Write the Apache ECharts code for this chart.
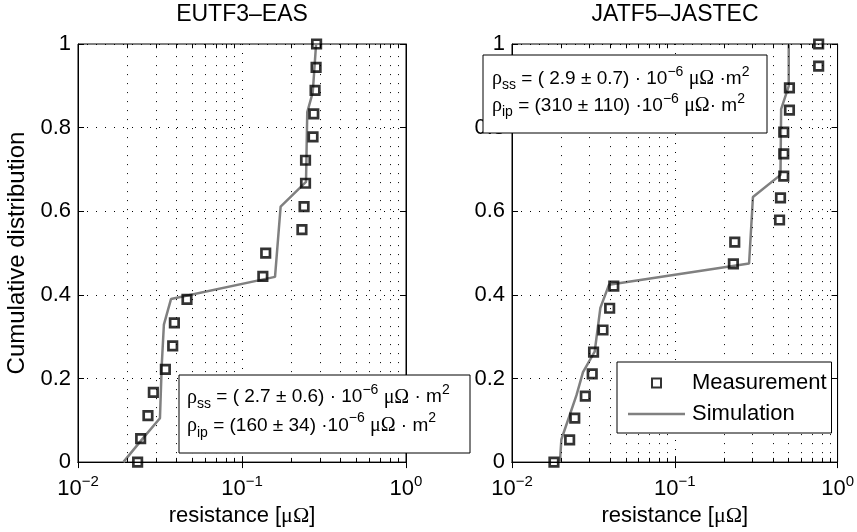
<!DOCTYPE html>
<html><head><meta charset="utf-8">
<script src="https://cdn.jsdelivr.net/npm/echarts@6/dist/echarts.min.js"></script>
<style>html,body{margin:0;padding:0;background:#fff}#c{width:857px;height:532px}</style>
</head><body><div id="c"></div>
<script>
// ---- data ----
const panelTitles = ['EUTF3–EAS', 'JATF5–JASTEC'];
const leftMeasX = [0.0231, 0.0241, 0.0267, 0.0288, 0.0341, 0.0378, 0.0387, 0.0462, 0.134, 0.1395, 0.232, 0.239, 0.244, 0.244, 0.271, 0.274, 0.279, 0.283, 0.285];
const leftMeasY = [0, 0.056, 0.111, 0.167, 0.222, 0.278, 0.333, 0.389, 0.444, 0.5, 0.556, 0.611, 0.667, 0.722, 0.778, 0.833, 0.889, 0.944, 1];
const leftSimX = [0.0189, 0.025, 0.0316, 0.0324, 0.0334, 0.0369, 0.159, 0.172, 0.2456, 0.25, 0.27, 0.283];
const leftSimY = [0, 0.058, 0.105, 0.231, 0.329, 0.39, 0.443, 0.611, 0.67, 0.837, 0.884, 1];
const rightMeasX = [0.0181, 0.0226, 0.0243, 0.0282, 0.0311, 0.0317, 0.0362, 0.0398, 0.0422, 0.229, 0.2335, 0.44, 0.446, 0.467, 0.467, 0.467, 0.506, 0.506, 0.765, 0.765];
const rightMeasY = [0, 0.053, 0.105, 0.158, 0.211, 0.263, 0.316, 0.368, 0.421, 0.474, 0.526, 0.579, 0.632, 0.684, 0.737, 0.789, 0.842, 0.895, 0.947, 1];
const rightSimX = [0.0197, 0.0201, 0.0249, 0.0273, 0.0322, 0.0349, 0.0394, 0.286, 0.302, 0.446, 0.45, 0.501, 0.501];
const rightSimY = [0, 0.054, 0.16, 0.215, 0.264, 0.369, 0.424, 0.475, 0.634, 0.687, 0.844, 0.899, 1];
const minorXTicks = [0.02, 0.03, 0.04, 0.05, 0.06, 0.07, 0.08, 0.09, 0.2, 0.3, 0.4, 0.5, 0.6, 0.7, 0.8, 0.9];
const yTickLabels = ['0', '0.2', '0.4', '0.6', '0.8', '1'];
const legendNames = ['Measurement', 'Simulation'];
const annotLeft = ['{g|ρ}{sub|ss} = ( 2.7 ± 0.6) · 10{sup|−6} {g|μΩ} · m{sup|2}', '{g|ρ}{sub|ip} = (160 ± 34) ·10{sup|−6} {g|μΩ} · m{sup|2}'];
const annotRight = ['{g|ρ}{sub|ss} = ( 2.9 ± 0.7) · 10{sup|−6} {g|μΩ} ·m{sup|2}', '{g|ρ}{sub|ip} = (310 ± 110) ·10{sup|−6} {g|μΩ}· m{sup|2}'];
const xAxisName = '{n|resistance [}{g|μΩ}{n|]}';
const yAxisName = 'Cumulative distribution';

// ---- style ----
const FF = '"Liberation Sans", Arial, Helvetica, sans-serif';
const SERIF = '"Liberation Serif", "DejaVu Serif", serif';
const dotted = { color: '#000', width: 1, type: [1, 8] };
const grids = [
  { left: 78, top: 44, width: 328, height: 424 },
  { left: 512, top: 44, width: 327, height: 424 }
];

function pairs(xs, ys) { return xs.map((x, i) => [x, ys[i]]); }

const xRich = {
  b: { fontSize: 22, fontFamily: FF, color: '#000', lineHeight: 30 },
  s: { fontSize: 15, fontFamily: FF, color: '#000', verticalAlign: 'top', lineHeight: 8 }
};
function xLabel(v) {
  const e = Math.round(Math.log10(v));
  return '{b|10}{s|' + (e < 0 ? '−' + (-e) : String(e)) + '}';
}

const xAxes = [], yAxes = [];
grids.forEach((g, gi) => {
  xAxes.push({
    gridIndex: gi, type: 'log', logBase: 10, min: 0.01, max: 1, position: 'bottom',
    axisLine: { show: true, lineStyle: { color: '#000', width: 1 } },
    axisTick: { show: true, inside: true, length: 6, lineStyle: { color: '#000' } },
    axisLabel: { formatter: xLabel, rich: xRich, margin: 12, color: '#000' },
    splitLine: { show: true, lineStyle: dotted },
    name: xAxisName, nameLocation: 'middle', nameGap: 38,
    nameTextStyle: { rich: { n: { fontSize: 22, fontFamily: FF, color: '#000' }, g: { fontSize: 22, fontFamily: SERIF, color: '#000' } } }
  });
  xAxes.push({
    gridIndex: gi, type: 'log', logBase: 10, min: 0.01, max: 1, position: 'top',
    axisLine: { show: true, lineStyle: { color: '#000', width: 1 } },
    axisTick: { show: true, inside: true, length: 6, lineStyle: { color: '#000' } },
    axisLabel: { show: false }, splitLine: { show: false }
  });
  yAxes.push({
    gridIndex: gi, type: 'value', min: 0, max: 1, interval: 0.2, position: 'left',
    axisLine: { show: true, lineStyle: { color: '#000', width: 1 } },
    axisTick: { show: true, inside: true, length: 6, lineStyle: { color: '#000' } },
    axisLabel: { formatter: (v) => yTickLabels[Math.round(v / 0.2)], fontSize: 22, fontFamily: FF, color: '#000', margin: 7 },
    splitLine: { show: true, lineStyle: dotted },
    name: gi === 0 ? yAxisName : '', nameLocation: 'middle', nameGap: 49,
    nameTextStyle: { fontSize: 24, fontFamily: FF, color: '#000' }
  });
  yAxes.push({
    gridIndex: gi, type: 'value', min: 0, max: 1, interval: 0.2, position: 'right',
    axisLine: { show: true, lineStyle: { color: '#000', width: 1 } },
    axisTick: { show: true, inside: true, length: 6, lineStyle: { color: '#000' } },
    axisLabel: { show: false }, splitLine: { show: false }
  });
});

function minorMarks() {
  const d = [];
  minorXTicks.forEach(v => {
    d.push({ xAxis: v, lineStyle: dotted });
    d.push([{ coord: [v, 0], lineStyle: { type: 'solid', color: '#000', width: 1 } }, { coord: [v, 0.01] }]);
    d.push([{ coord: [v, 1], lineStyle: { type: 'solid', color: '#000', width: 1 } }, { coord: [v, 0.99] }]);
  });
  return {
    silent: true, symbol: ['none', 'none'], label: { show: false }, animation: false,
    lineStyle: dotted, emphasis: { disabled: true }, data: d
  };
}

const simSets = [pairs(leftSimX, leftSimY), pairs(rightSimX, rightSimY)];
const measSets = [pairs(leftMeasX, leftMeasY), pairs(rightMeasX, rightMeasY)];
const series = [];
[0, 1].forEach(gi => {
  series.push({
    name: legendNames[1], type: 'line', xAxisIndex: gi * 2, yAxisIndex: gi * 2,
    data: simSets[gi], symbol: 'none', showSymbol: false, z: 3,
    lineStyle: { color: '#808080', width: 2.5 }, itemStyle: { color: '#808080' },
    markLine: minorMarks()
  });
  series.push({
    name: legendNames[0], type: 'scatter', xAxisIndex: gi * 2, yAxisIndex: gi * 2,
    data: measSets[gi], symbol: 'rect', symbolSize: 8.5, z: 4,
    itemStyle: { color: 'rgba(0,0,0,0)', borderColor: '#000', borderWidth: 2.7 }
  });
});

const annRich = {
  g: { fontFamily: SERIF, fontSize: 20, color: '#000' },
  sub: { fontFamily: FF, fontSize: 14, color: '#000', verticalAlign: 'bottom', lineHeight: 3 },
  sup: { fontFamily: FF, fontSize: 14, color: '#000', verticalAlign: 'top', lineHeight: 11 }
};

const option = {
  animation: false,
  backgroundColor: '#fff',
  title: [
    { text: panelTitles[0], left: 242, top: 3, textAlign: 'center', padding: 0, textStyle: { fontSize: 23, fontWeight: 'normal', fontFamily: FF, color: '#000' } },
    { text: panelTitles[1], left: 675, top: 3, textAlign: 'center', padding: 0, textStyle: { fontSize: 23, fontWeight: 'normal', fontFamily: FF, color: '#000' } }
  ],
  grid: grids.map(g => Object.assign({ show: true, borderColor: '#000', borderWidth: 1, backgroundColor: 'transparent' }, g)),
  xAxis: xAxes,
  yAxis: yAxes,
  legend: {
    data: [
      { name: legendNames[0], icon: 'path://M0,0H10V10H0Z' },
      { name: legendNames[1], icon: 'path://M0,0H57V2.5H0Z', itemStyle: { color: '#808080', borderWidth: 0 } }
    ],
    orient: 'vertical', left: 617, top: 362, padding: [10, 5, 8, 11], itemGap: 9,
    itemWidth: 57, itemHeight: 9, selectedMode: false,
    backgroundColor: '#fff', borderColor: '#000', borderWidth: 1, borderRadius: 0, z: 20,
    textStyle: { fontSize: 22, fontFamily: FF, color: '#000', padding: [0, 0, 0, 2] }
  },
  graphic: [
    { type: 'rect', z: 100, shape: { x: 179, y: 375, width: 291, height: 78 }, style: { fill: '#fff', stroke: '#000', lineWidth: 1 } },
    { type: 'text', z: 101, x: 187, y: 383, style: { text: annotLeft.join('\n'), rich: annRich, fontSize: 19, fontFamily: FF, fill: '#000', lineHeight: 28.5 } },
    { type: 'rect', z: 100, shape: { x: 483, y: 55, width: 284, height: 78 }, style: { fill: '#fff', stroke: '#000', lineWidth: 1 } },
    { type: 'text', z: 101, x: 492, y: 65.5, style: { text: annotRight.join('\n'), rich: annRich, fontSize: 19, fontFamily: FF, fill: '#000', lineHeight: 27 } }
  ],
  series: series
};
const chart = echarts.init(document.getElementById('c'), null, { renderer: 'canvas' });
chart.setOption(option);
</script></body></html>
